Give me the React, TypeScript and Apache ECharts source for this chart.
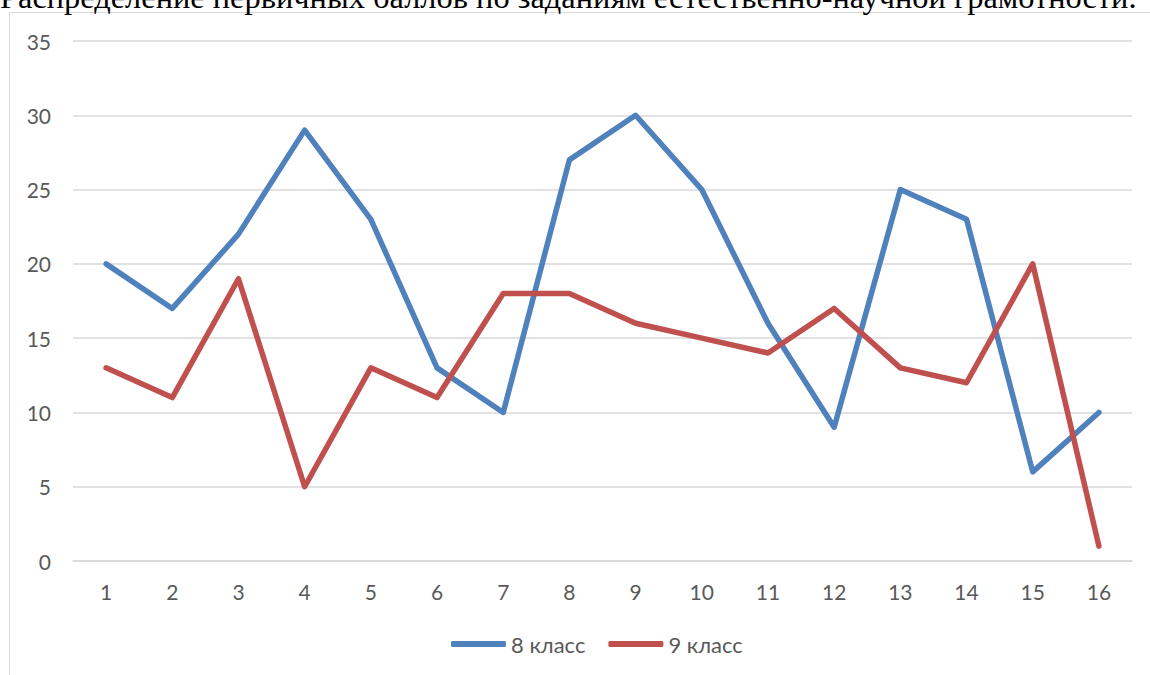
import React, { useEffect, useRef } from "react";
import * as echarts from "echarts";

const categories = ["1", "2", "3", "4", "5", "6", "7", "8", "9", "10", "11", "12", "13", "14", "15", "16"];
const grade8 = [20, 17, 22, 29, 23, 13, 10, 27, 30, 25, 16, 9, 25, 23, 6, 10];
const grade9 = [13, 11, 19, 5, 13, 11, 18, 18, 16, 15, 14, 17, 13, 12, 20, 1];
const seriesNames = ["8 класс", "9 класс"];
const titleText = "Распределение первичных баллов по заданиям естественно-научной грамотности.";

export default function App() {
  const ref = useRef<HTMLDivElement>(null);
  useEffect(() => {
    if (!ref.current) return;
    const chart = echarts.init(ref.current, undefined, { renderer: "svg" });
    const font = "Lato, 'Open Sans', sans-serif";
    chart.setOption({
      animation: false,
      backgroundColor: "#ffffff",
      grid: { left: 73, right: 18, top: 41, bottom: 114, containLabel: false },
      graphic: [
        {
          type: "rect",
          shape: { x: 9.5, y: 12.5, width: 1300, height: 800 },
          style: { fill: "none", stroke: "#D9D9D9", lineWidth: 1 },
          silent: true,
        },
        {
          type: "text",
          x: 0,
          y: -3,
          style: {
            text: titleText,
            font: "32.4px 'Liberation Serif', 'Times New Roman', serif",
            fill: "#000000",
            verticalAlign: "middle",
            align: "left",
          },
          silent: true,
        },
      ],
      legend: {
        data: seriesNames.map((n) => ({ name: n, icon: "roundRect" })),
        bottom: 15,
        left: 446,
        itemWidth: 55,
        itemHeight: 6,
        itemGap: 23,
        textStyle: { fontFamily: font, fontSize: 22, color: "#595959" },
      },
      xAxis: {
        type: "category",
        data: categories,
        boundaryGap: true,
        axisLine: { show: true, lineStyle: { color: "#D9D9D9", width: 1.5 } },
        axisTick: { show: false },
        axisLabel: { fontFamily: font, fontSize: 21, color: "#595959", margin: 20 },
      },
      yAxis: {
        type: "value",
        min: 0,
        max: 35,
        interval: 5,
        axisLine: { show: false },
        axisTick: { show: false },
        axisLabel: { fontFamily: font, fontSize: 21, color: "#595959", margin: 22 },
        splitLine: { lineStyle: { color: "#D9D9D9", width: 1.5 } },
      },
      series: [
        {
          name: seriesNames[0],
          type: "line",
          data: grade8,
          symbol: "none",
          color: "#4F81BD",
          lineStyle: { width: 5.5, color: "#4F81BD", cap: "round", join: "round" },
        },
        {
          name: seriesNames[1],
          type: "line",
          data: grade9,
          symbol: "none",
          color: "#C0504D",
          lineStyle: { width: 5.5, color: "#C0504D", cap: "round", join: "round" },
        },
      ],
    });
    return () => chart.dispose();
  }, []);
  return (
    <div
      ref={ref}
      style={{ position: "absolute", left: 0, top: 0, width: 1150, height: 675 }}
    />
  );
}
